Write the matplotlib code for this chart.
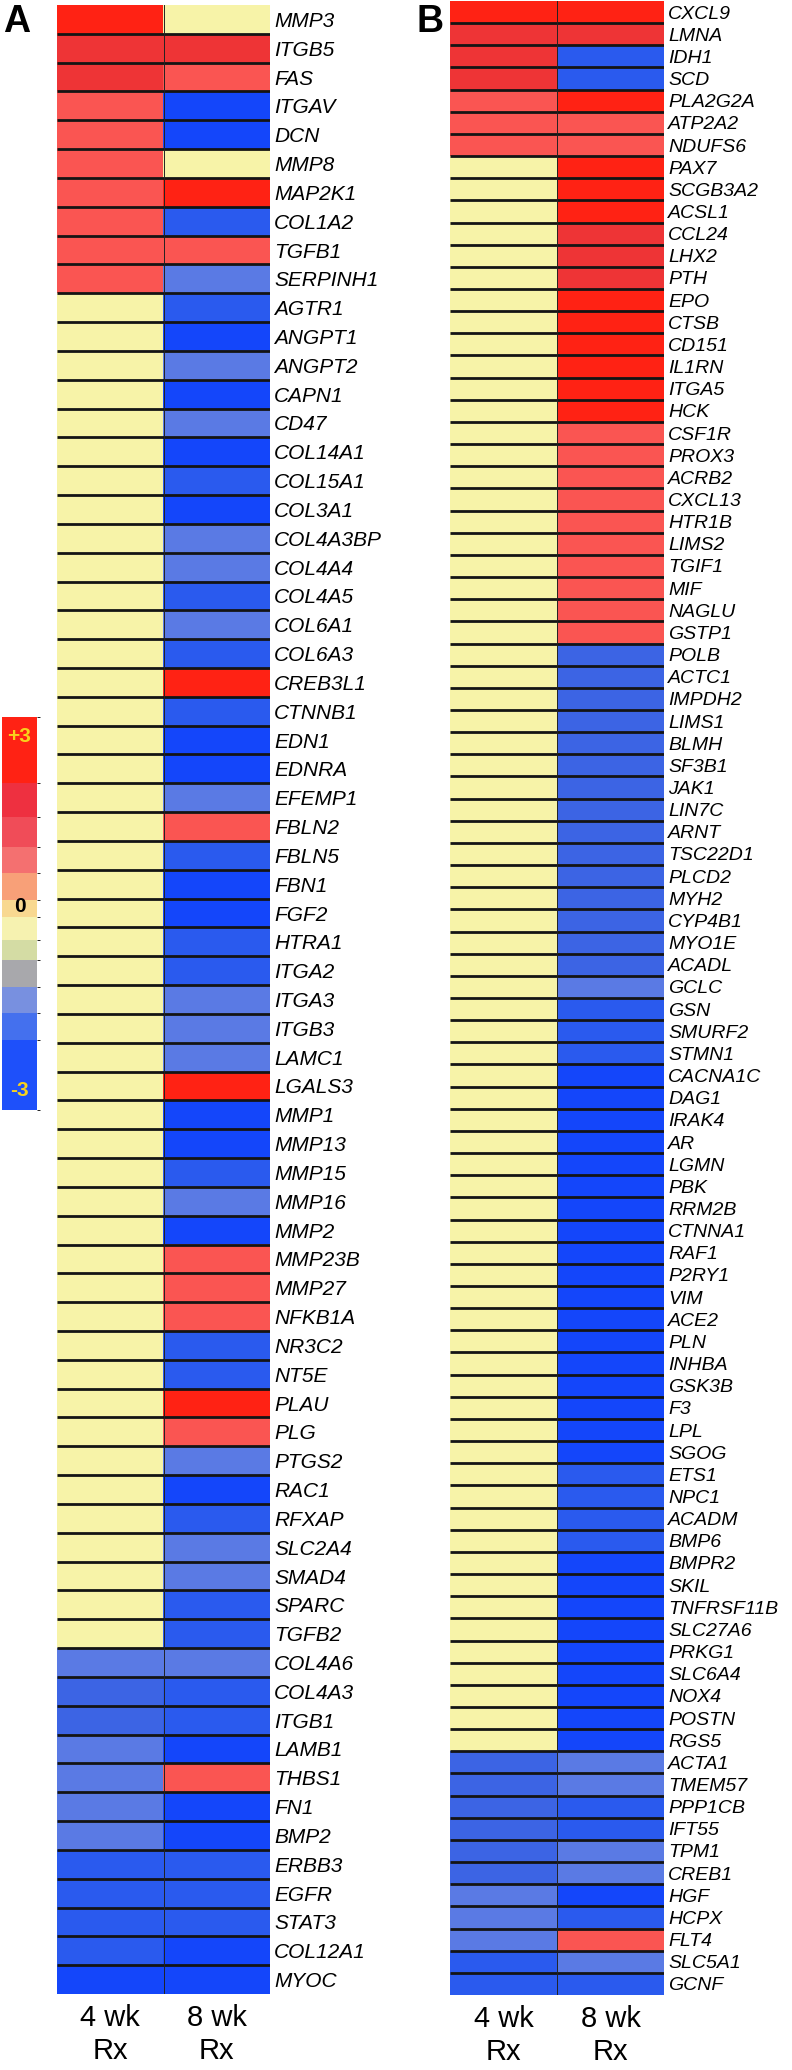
import numpy as np
import matplotlib.pyplot as plt
from matplotlib.colors import ListedColormap, BoundaryNorm
import matplotlib as mpl

plt.rcParams['font.family'] = ['Liberation Sans', 'DejaVu Sans']

# --------------------------------------------------------------------------
# Data (log-scale change, -3 .. +3)
# --------------------------------------------------------------------------
genes_a = ['MMP3', 'ITGB5', 'FAS', 'ITGAV', 'DCN', 'MMP8', 'MAP2K1', 'COL1A2',
           'TGFB1', 'SERPINH1', 'AGTR1', 'ANGPT1', 'ANGPT2', 'CAPN1', 'CD47',
           'COL14A1', 'COL15A1', 'COL3A1', 'COL4A3BP', 'COL4A4', 'COL4A5',
           'COL6A1', 'COL6A3', 'CREB3L1', 'CTNNB1', 'EDN1', 'EDNRA', 'EFEMP1',
           'FBLN2', 'FBLN5', 'FBN1', 'FGF2', 'HTRA1', 'ITGA2', 'ITGA3', 'ITGB3',
           'LAMC1', 'LGALS3', 'MMP1', 'MMP13', 'MMP15', 'MMP16', 'MMP2',
           'MMP23B', 'MMP27', 'NFKB1A', 'NR3C2', 'NT5E', 'PLAU', 'PLG', 'PTGS2',
           'RAC1', 'RFXAP', 'SLC2A4', 'SMAD4', 'SPARC', 'TGFB2', 'COL4A6',
           'COL4A3', 'ITGB1', 'LAMB1', 'THBS1', 'FN1', 'BMP2', 'ERBB3', 'EGFR',
           'STAT3', 'COL12A1', 'MYOC']
wk4_a = [3, 2.5, 2.5, 2, 2, 2, 2, 2, 2, 2,
         0, 0, 0, 0, 0, 0, 0, 0, 0, 0,
         0, 0, 0, 0, 0, 0, 0, 0, 0, 0,
         0, 0, 0, 0, 0, 0, 0, 0, 0, 0,
         0, 0, 0, 0, 0, 0, 0, 0, 0, 0,
         0, 0, 0, 0, 0, 0, 0, -1.5, -2, -2,
         -1.5, -1.5, -1.5, -1.5, -2.5, -2.5, -2.5, -2.5, -3]
wk8_a = [0, 2.5, 2, -3, -3, 0, 3, -2.5, 2, -1.5,
         -2.5, -3, -1.5, -3, -1.5, -3, -2.5, -3, -1.5, -1.5,
         -2.5, -1.5, -2.5, 3, -2.5, -3, -3, -1.5, 2, -2.5,
         -3, -3, -2.5, -2.5, -1.5, -1.5, -1.5, 3, -3, -3,
         -2.5, -1.5, -3, 2, 2, 2, -2.5, -2.5, 3, 2,
         -1.5, -3, -2.5, -1.5, -1.5, -2.5, -2.5, -1.5, -2.5, -2.5,
         -3, 2, -3, -3, -2.5, -2.5, -2.5, -3, -3]

genes_b = ['CXCL9', 'LMNA', 'IDH1', 'SCD', 'PLA2G2A', 'ATP2A2', 'NDUFS6', 'PAX7',
           'SCGB3A2', 'ACSL1', 'CCL24', 'LHX2', 'PTH', 'EPO', 'CTSB', 'CD151',
           'IL1RN', 'ITGA5', 'HCK', 'CSF1R', 'PROX3', 'ACRB2', 'CXCL13', 'HTR1B',
           'LIMS2', 'TGIF1', 'MIF', 'NAGLU', 'GSTP1', 'POLB', 'ACTC1', 'IMPDH2',
           'LIMS1', 'BLMH', 'SF3B1', 'JAK1', 'LIN7C', 'ARNT', 'TSC22D1', 'PLCD2',
           'MYH2', 'CYP4B1', 'MYO1E', 'ACADL', 'GCLC', 'GSN', 'SMURF2', 'STMN1',
           'CACNA1C', 'DAG1', 'IRAK4', 'AR', 'LGMN', 'PBK', 'RRM2B', 'CTNNA1',
           'RAF1', 'P2RY1', 'VIM', 'ACE2', 'PLN', 'INHBA', 'GSK3B', 'F3', 'LPL',
           'SGOG', 'ETS1', 'NPC1', 'ACADM', 'BMP6', 'BMPR2', 'SKIL', 'TNFRSF11B',
           'SLC27A6', 'PRKG1', 'SLC6A4', 'NOX4', 'POSTN', 'RGS5', 'ACTA1',
           'TMEM57', 'PPP1CB', 'IFT55', 'TPM1', 'CREB1', 'HGF', 'HCPX', 'FLT4',
           'SLC5A1', 'GCNF']
wk4_b = [3, 2.5, 2.5, 2.5, 2, 2, 2] + [0] * 72 + \
        [-2, -2, -2, -2, -2, -2, -1.5, -1.5, -1.5, -2.5, -2.5]
wk8_b = [3, 2.5, -2.5, -2.5, 3, 2, 2, 3, 3, 3,
         2.5, 2.5, 2.5, 3, 3, 3, 3, 3, 3, 2,
         2, 2, 2, 2, 2, 2, 2, 2, 2, -2,
         -2, -2, -2, -2, -2, -2, -2, -2, -2, -2,
         -2, -2, -2, -2, -1.5, -2.5, -2.5, -2.5, -3, -3,
         -3, -3, -3, -3, -3, -3, -3, -3, -3, -3,
         -3, -3, -3, -3, -3, -3, -2.5, -2.5, -2.5, -2.5,
         -3, -3, -3, -3, -3, -3, -3, -3, -3, -1.5,
         -1.5, -2.5, -2.5, -1.5, -1.5, -3, -2.5, 2, -1.5, -2.5]

columns = ['4 wk\nRx', '8 wk\nRx']

# heatmap colour levels
heat_bounds = [-3.25, -2.75, -2.25, -1.75, -0.75, 1, 2.25, 2.75, 3.25]
heat_colors = ['#1446FA', '#2A5AEE', '#3C64E4', '#5A7AE4', '#F7F3A8',
               '#FA5552', '#EE3436', '#FF2214']

# colour scale bar
scale_bounds = [-3, -1.93, -1.52, -1.12, -0.71, -0.40, -0.05, 0.21, 0.62,
                1.02, 1.47, 1.99, 3]
scale_colors = ['#1E50FA', '#4470EE', '#7890E0', '#A8A8AC', '#D4DCA4',
                '#F6F2B0', '#F8D890', '#F8A078', '#F47070', '#F04C58',
                '#EE3040', '#FF2214']

cmap = ListedColormap(heat_colors)
norm = BoundaryNorm(heat_bounds, cmap.N)

W, H = 792, 2070
fig = plt.figure(figsize=(W / 100, H / 100), dpi=100)


def draw_panel(ax, genes, wk4, wk8, label_size):
    data = np.column_stack([wk4, wk8])
    n = len(genes)
    ax.imshow(data, cmap=cmap, norm=norm, aspect='auto', interpolation='nearest')
    ax.hlines(np.arange(0.5, n - 0.5), -0.5, 1.5, color='#141414', lw=2.0)
    ax.axvline(0.5, color='#222222', lw=0.7)
    ax.yaxis.tick_right()
    ax.set_yticks(range(n))
    ax.set_yticklabels(genes, fontstyle='italic', fontsize=label_size)
    ax.set_xticks([0, 1])
    ax.set_xticklabels(columns, fontsize=21, linespacing=1.25)
    ax.tick_params(axis='y', length=0, pad=3)
    ax.tick_params(axis='x', length=0, pad=7)
    for s in ax.spines.values():
        s.set_visible(False)


axA = fig.add_axes([57 / W, 1 - 1994 / H, 213 / W, 1989 / H])
draw_panel(axA, genes_a, wk4_a, wk8_a, 15)

axB = fig.add_axes([450 / W, 1 - 1995 / H, 214 / W, 1994 / H])
draw_panel(axB, genes_b, wk4_b, wk8_b, 14)

# colour scale
cax = fig.add_axes([2 / W, 1 - 1110 / H, 35 / W, 393 / H])
scale_cmap = ListedColormap(scale_colors)
scale_norm = BoundaryNorm(scale_bounds, scale_cmap.N)
cb = fig.colorbar(mpl.cm.ScalarMappable(norm=scale_norm, cmap=scale_cmap),
                  cax=cax, spacing='proportional')
cb.outline.set_visible(False)
cax.set_yticks([])
cax.text(0.5, 2.7, '+3', ha='center', va='center', color='#F8D21C',
         fontsize=15, weight='bold', transform=cax.transData)
cax.text(0.5, 0.1, '0', ha='center', va='center', color='black',
         fontsize=15, weight='bold', transform=cax.transData)
cax.text(0.5, -2.7, '-3', ha='center', va='center', color='#F8D21C',
         fontsize=15, weight='bold', transform=cax.transData)

fig.text(3 / W, 1 - 4 / H, 'A', ha='left', va='top', fontsize=27, weight='bold')
fig.text(416 / W, 1 - 4 / H, 'B', ha='left', va='top', fontsize=27, weight='bold')

fig.savefig('out.png', dpi=100)
